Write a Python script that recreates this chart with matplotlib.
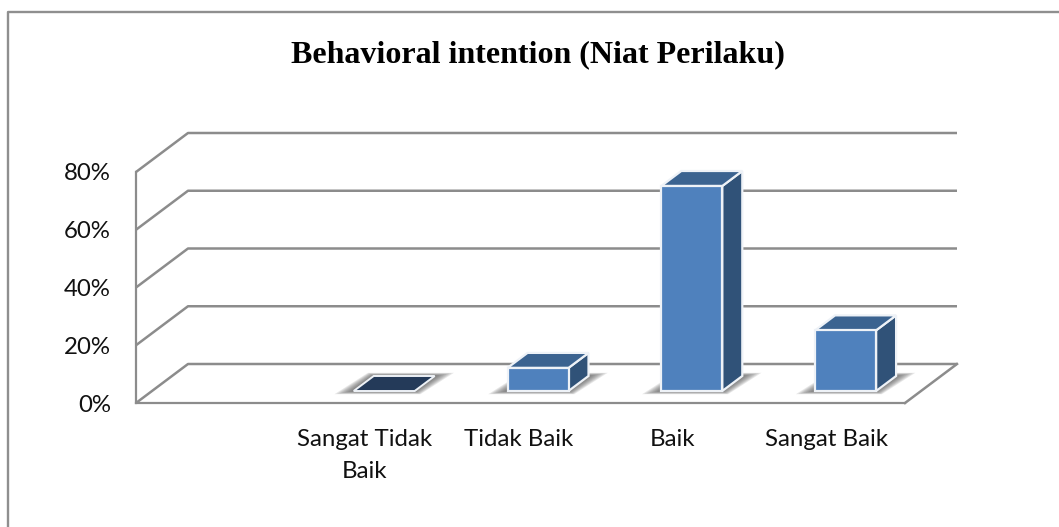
"""Behavioral intention bar chart with a hand-built 3D column look."""

import matplotlib
matplotlib.use("Agg")
import matplotlib.pyplot as plt
from matplotlib.lines import Line2D
from matplotlib.patches import Polygon

W, H = 1059, 527

TITLE = "Behavioral intention (Niat Perilaku)"
categories = ["", "Sangat Tidak\nBaik", "Tidak Baik", "Baik", "Sangat Baik"]
values = [None, 0, 8, 71, 21]
y_ticks = [0, 20, 40, 60, 80]
y_tick_labels = ["0%", "20%", "40%", "60%", "80%"]

# axes box in pixels (front plane of the chart)
LEFT, RIGHT, BOTTOM, TOP = 136, 905, 403, 172
PX_X = (RIGHT - LEFT) / len(categories)
PX_Y = (BOTTOM - TOP) / 80

# depth offsets, converted to data units
WALL_DX, WALL_DY = 52 / PX_X, 39 / PX_Y
BAR_DX, BAR_DY = 20 / PX_X, 15 / PX_Y
BAR_W = 61 / PX_X
BAR_SHIFT = -13 / PX_X   # bar front-left relative to category centre
FLOOR_DY = 12 / PX_Y     # bars stand a bit behind the front edge
LABEL_SHIFT = -2 / PX_X

GRID = "#8c8c8c"
FRONT = "#4f81bd"
SIDE = "#305278"
ROOF = "#3b6390"
FLAT = "#243a59"
EDGE = "#eef2f7"

fig = plt.figure(figsize=(W / 100, H / 100), dpi=100)
ax = fig.add_axes([LEFT / W, 1 - BOTTOM / H, (RIGHT - LEFT) / W, (BOTTOM - TOP) / H])
ax.set_xlim(0, len(categories))
ax.set_ylim(0, 80)
ax.patch.set_alpha(0)

for side in ["top", "right"]:
    ax.spines[side].set_visible(False)
for side in ["left", "bottom"]:
    ax.spines[side].set_color(GRID)
    ax.spines[side].set_linewidth(1.6)

ax.set_xticks([i + 0.5 + LABEL_SHIFT for i in range(len(categories))])
ax.set_xticklabels(categories, fontfamily="Lato", fontsize=17.3, linespacing=1.6)
ax.set_yticks(y_ticks)
ax.set_yticklabels(y_tick_labels, fontfamily="Lato", fontsize=17.3)
ax.tick_params(axis="x", length=0, pad=19, colors="#111111")
ax.tick_params(axis="y", length=0, pad=18, colors="#111111")

# walls and floor
n = len(categories)
for t in y_ticks:
    ax.plot([0, WALL_DX, n + WALL_DX], [t, t + WALL_DY, t + WALL_DY],
            color=GRID, lw=1.8, clip_on=False, zorder=1, solid_capstyle="butt")
ax.plot([n, n + WALL_DX], [0, WALL_DY], color=GRID, lw=1.8, clip_on=False, zorder=1)

# columns
for i, v in enumerate(values):
    if v is None:
        continue
    x0 = i + 0.5 + BAR_SHIFT
    x1 = x0 + BAR_W
    y0 = FLOOR_DY
    y1 = y0 + v

    # soft floor shadow, stacked see-through layers, widest and faintest first
    for k in range(8):
        g = (8 - k) * 2.4 / PX_X
        lift = (8 - k) * 0.4 / PX_Y
        ax.add_patch(Polygon(
            [(x0 - g, y0 - lift), (x1 + g * 0.3, y0 - lift),
             (x1 + BAR_DX + g, y0 + BAR_DY + lift), (x0 + BAR_DX - g * 0.3, y0 + BAR_DY + lift)],
            closed=True, fc="#4a4a4a", ec="none", alpha=0.13, clip_on=False, zorder=2))

    if v == 0:
        ax.add_patch(Polygon(
            [(x0, y0), (x1, y0), (x1 + BAR_DX, y0 + BAR_DY), (x0 + BAR_DX, y0 + BAR_DY)],
            closed=True, fc=FLAT, ec=EDGE, lw=1.4, clip_on=False, zorder=3))
        continue

    ax.add_patch(Polygon(
        [(x1, y0), (x1 + BAR_DX, y0 + BAR_DY), (x1 + BAR_DX, y1 + BAR_DY), (x1, y1)],
        closed=True, fc=SIDE, ec=EDGE, lw=1.6, clip_on=False, zorder=3))
    ax.add_patch(Polygon(
        [(x0, y1), (x1, y1), (x1 + BAR_DX, y1 + BAR_DY), (x0 + BAR_DX, y1 + BAR_DY)],
        closed=True, fc=ROOF, ec=EDGE, lw=1.6, clip_on=False, zorder=3))
    ax.bar(x0, v, width=BAR_W, bottom=y0, align="edge", color=FRONT, edgecolor=EDGE,
           linewidth=1.6, clip_on=False, zorder=4)

fig.text(538 / W, 1 - 55 / H, TITLE, ha="center", va="center",
         fontfamily="Liberation Serif", fontweight="bold", fontsize=23, color="black")

# outer chart frame, only left and top survive the crop
fig.add_artist(Line2D([8 / W, 8 / W, 1], [0, 1 - 12 / H, 1 - 12 / H], color="#8f8f8f", lw=1.7))

fig.savefig("out.png", dpi=100)
plt.close(fig)
